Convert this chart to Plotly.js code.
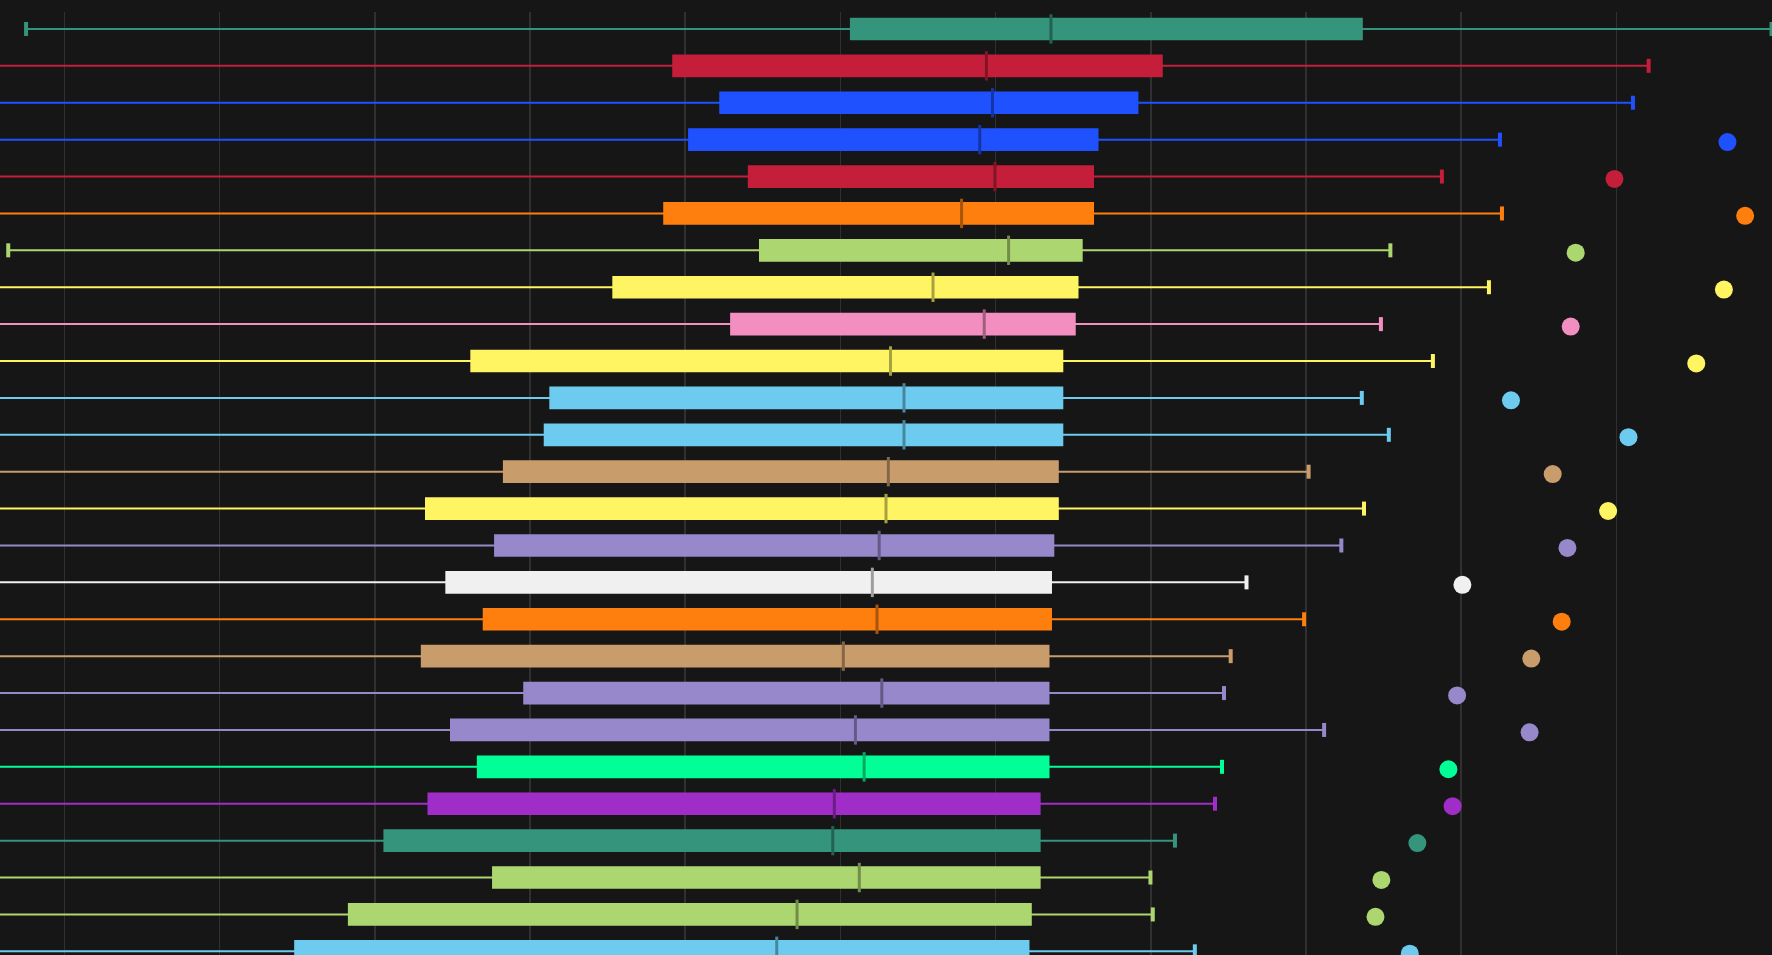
<!DOCTYPE html>
<html>
<head>
<meta charset="utf-8">
<script src="https://cdn.plot.ly/plotly-3.0.1.min.js"></script>
<style>
  html, body { margin: 0; padding: 0; background: #161616; overflow: hidden; }
  #chart { width: 1772px; height: 955px; }
</style>
</head>
<body>
<div id="chart"></div>
<script>
// ---- data ----
const CATEGORIES = ['S01','S02','S03','S04','S05','S06','S07','S08','S09','S10','S11','S12','S13',
                    'S14','S15','S16','S17','S18','S19','S20','S21','S22','S23','S24','S25','S26'];

const COLORS = ['#35947c','#c41e3a','#1f51ff','#1f51ff','#c41e3a','#ff7f0e','#acd66f','#fff461',
                '#f38fc0','#fff461','#6ccbef','#6ccbef','#c99c6c','#fff461','#9688ca','#f0f0f0',
                '#ff7f0e','#c99c6c','#9688ca','#9688ca','#00ff96','#a12dc8','#35947c','#acd66f',
                '#acd66f','#6ccbef'];

const LOWER  = [7.53, 1.5, 2.8, 0.9, 3.6, 2.2, 6.38, 4.1, 3.0, 1.2, 2.5, 0.8, 3.3,
                1.9, 2.7, 0.6, 3.9, 1.4, 2.1, 0.7, 3.2, 1.1, 0.4, 2.6, 1.6, 0.3];
const Q1     = [60.68, 49.23, 52.26, 50.25, 54.10, 48.65, 54.82, 45.37, 52.96, 36.22, 41.31, 40.95, 38.32,
                33.30, 37.75, 34.61, 37.02, 33.03, 39.63, 34.91, 36.64, 33.46, 30.62, 37.62, 28.33, 24.87];
const MEDIAN = [73.57, 69.41, 69.80, 68.98, 69.96, 67.81, 70.84, 65.97, 69.27, 63.23, 64.10, 64.10, 63.09,
                62.94, 62.50, 62.06, 62.36, 60.19, 62.67, 60.97, 61.53, 59.61, 59.51, 61.22, 57.21, 55.90];
const Q3     = [93.60, 80.71, 79.14, 76.57, 76.28, 76.28, 75.55, 75.28, 75.10, 74.30, 74.30, 74.30, 74.01,
                74.01, 73.72, 73.57, 73.57, 73.41, 73.41, 73.41, 73.41, 72.84, 72.84, 72.84, 72.27, 72.12];
const UPPER  = [120.0, 112.08, 111.07, 102.50, 98.76, 102.63, 95.44, 101.79, 94.83, 98.18, 93.60, 95.34, 90.17,
                93.74, 92.28, 86.17, 89.88, 85.15, 84.72, 91.17, 84.59, 84.14, 81.56, 79.98, 80.13, 82.84];
const OUTLIER = [null, null, null, 117.16, 109.88, 118.30, 107.38, 116.93, 107.06, 115.15, 103.21, 110.78, 105.90,
                 109.47, 106.85, 100.08, 106.48, 104.52, 99.74, 104.41, 99.18, 99.45, 97.18, 94.86, 94.48, 96.69];

const TICKS = [10, 20, 30, 40, 50, 60, 70, 80, 90, 100, 110];

// ---- helpers ----
function shade(hex, k) {
  const n = parseInt(hex.slice(1), 16);
  const r = Math.round(((n >> 16) & 255) * k);
  const g = Math.round(((n >> 8) & 255) * k);
  const b = Math.round((n & 255) * k);
  return 'rgb(' + r + ',' + g + ',' + b + ')';
}

const traces = [];
CATEGORIES.forEach((cat, i) => {
  traces.push({
    type: 'box',
    orientation: 'h',
    y: [cat],
    q1: [Q1[i]],
    median: [MEDIAN[i]],
    q3: [Q3[i]],
    lowerfence: [LOWER[i]],
    upperfence: [UPPER[i]],
    boxpoints: false,
    width: 0.56,
    whiskerwidth: 0,
    fillcolor: COLORS[i],
    line: { color: COLORS[i], width: 2 },
    hoverinfo: 'skip',
    showlegend: false
  });
});

// medians (darker shade)
traces.push({
  type: 'scatter', mode: 'markers',
  x: MEDIAN, y: CATEGORIES,
  marker: { symbol: 'line-ns', size: 21,
            line: { color: COLORS.map(c => shade(c, 0.66)), width: 3 } },
  hoverinfo: 'skip', showlegend: false
});

// whisker caps
traces.push({
  type: 'scatter', mode: 'markers',
  x: LOWER.concat(UPPER), y: CATEGORIES.concat(CATEGORIES),
  marker: { symbol: 'line-ns', size: 10,
            line: { color: COLORS.concat(COLORS), width: 4 } },
  hoverinfo: 'skip', showlegend: false
});

// outliers (drawn on an overlaid category axis, nudged slightly lower as in the reference)
traces.push({
  type: 'scatter', mode: 'markers',
  x: OUTLIER, y: CATEGORIES, yaxis: 'y2',
  marker: { symbol: 'circle', size: 18, color: COLORS, line: { width: 0 } },
  hoverinfo: 'skip', showlegend: false
});

const Y_TOP = -0.46, Y_BOTTOM = 25.10, DOT_SHIFT = 0.065;

const layout = {
  width: 1772, height: 955,
  margin: { l: 0, r: 0, t: 12, b: 0, pad: 0 },
  paper_bgcolor: '#161616',
  plot_bgcolor: '#161616',
  showlegend: false,
  xaxis: {
    range: [5.85, 120.03],
    tickvals: TICKS,
    showticklabels: false,
    ticks: '',
    showgrid: true,
    gridcolor: '#303030',
    gridwidth: 1.5,
    zeroline: false,
    showline: false
  },
  yaxis: {
    type: 'category',
    categoryorder: 'array',
    categoryarray: CATEGORIES,
    range: [Y_BOTTOM, Y_TOP],
    showticklabels: false,
    ticks: '',
    showgrid: false,
    zeroline: false,
    showline: false
  },
  yaxis2: {
    type: 'category',
    overlaying: 'y',
    categoryorder: 'array',
    categoryarray: CATEGORIES,
    range: [Y_BOTTOM - DOT_SHIFT, Y_TOP - DOT_SHIFT],
    showticklabels: false,
    ticks: '',
    showgrid: false,
    zeroline: false,
    showline: false
  }
};

Plotly.newPlot('chart', traces, layout, { displayModeBar: false, staticPlot: true });
</script>
</body>
</html>
